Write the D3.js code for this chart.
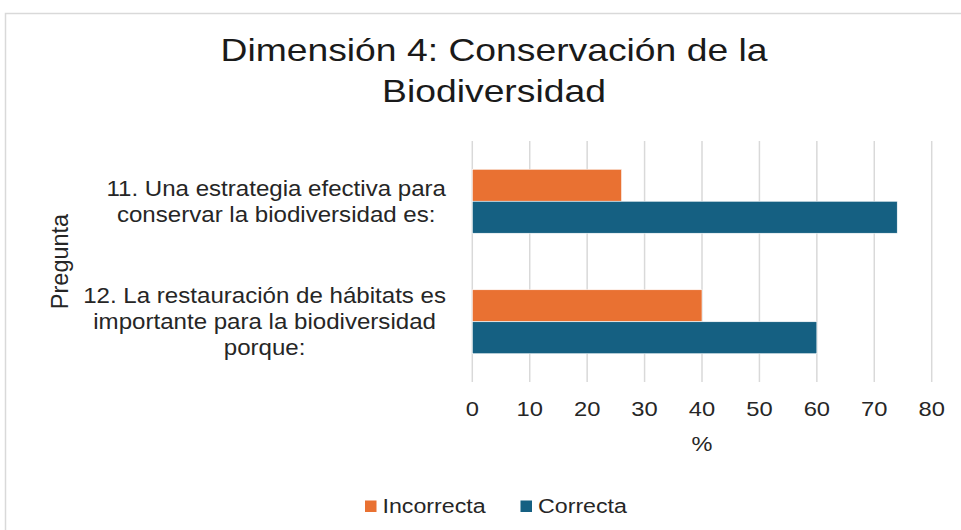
<!DOCTYPE html>
<html>
<head>
<meta charset="utf-8">
<script src="https://cdn.jsdelivr.net/npm/d3@7"></script>
<style>
  html, body { margin: 0; padding: 0; background: #fff; }
  svg { display: block; }
  text { font-family: "Liberation Sans", Arial, sans-serif; fill: #262626; }
</style>
</head>
<body>
<svg id="chart" width="961" height="530"></svg>
<script>
// ---- data ----
const titleLines = ["Dimensión 4: Conservación de la", "Biodiversidad"];
const categories = ["P11", "P12"];
const categoryLabelLines = [
  ["11. Una estrategia efectiva para", "conservar la biodiversidad es:"],
  ["12. La restauración de hábitats es", "importante para la biodiversidad", "porque:"]
];
const seriesNames = ["Incorrecta", "Correcta"];
const incorrecta = [26, 40];
const correcta = [74, 60];
const xTicks = [0, 10, 20, 30, 40, 50, 60, 70, 80];
const xAxisTitle = "%";
const yAxisTitle = "Pregunta";
const seriesColors = ["#E97132", "#156082"];

// ---- layout ----
const svg = d3.select("#chart");
const W = 961, H = 530;
const plot = { left: 472.3, right: 931.7, top: 141, bottom: 382 };

function stretch(sel, sx) {
  sel.each(function () {
    const len = this.getComputedTextLength();
    d3.select(this).attr("textLength", len * sx).attr("lengthAdjust", "spacingAndGlyphs");
  });
}

// frame
svg.append("rect")
  .attr("x", 5.5).attr("y", 13.5)
  .attr("width", W + 20).attr("height", H + 20)
  .attr("fill", "#fff").attr("stroke", "#d9d9d9").attr("stroke-width", 1.5);

// title
const title = svg.append("g");
title.selectAll("text").data(titleLines).join("text")
  .attr("x", 494)
  .attr("y", (d, i) => 61 + i * 41)
  .attr("text-anchor", "middle")
  .style("font-size", "32px")
  .style("fill", "#1a1a1a")
  .text(d => d)
  .call(stretch, 1.165);

// scales
const x = d3.scaleLinear().domain([0, 80]).range([plot.left, plot.right]);
const y = d3.scaleBand().domain(categories).range([plot.top, plot.bottom])
  .paddingInner(0.469).paddingOuter(0.2345);
const ySub = d3.scaleBand().domain(seriesNames).range([0, y.bandwidth()]);

// gridlines
svg.append("g").selectAll("line").data(xTicks).join("line")
  .attr("x1", d => x(d)).attr("x2", d => x(d))
  .attr("y1", plot.top).attr("y2", plot.bottom)
  .attr("stroke", "#d9d9d9").attr("stroke-width", 1.5);

// bars
const rows = categories.map((c, i) => ({ cat: c, values: [incorrecta[i], correcta[i]] }));
const groups = svg.append("g").selectAll("g").data(rows).join("g")
  .attr("transform", d => `translate(0,${y(d.cat)})`);
groups.selectAll("rect").data(d => d.values.map((v, j) => ({ s: seriesNames[j], v, j })))
  .join("rect")
  .attr("x", x(0))
  .attr("y", d => ySub(d.s))
  .attr("width", d => x(d.v) - x(0))
  .attr("height", ySub.bandwidth())
  .attr("fill", d => seriesColors[d.j])
  .attr("stroke", "#ffffff").attr("stroke-width", 0.6);

// x tick labels
svg.append("g").selectAll("text").data(xTicks).join("text")
  .attr("x", d => x(d))
  .attr("y", 416)
  .attr("text-anchor", "middle")
  .style("font-size", "21px")
  .text(d => d)
  .call(stretch, 1.13);

// x axis title
svg.append("text")
  .attr("x", (plot.left + plot.right) / 2)
  .attr("y", 451)
  .attr("text-anchor", "middle")
  .style("font-size", "21px")
  .text(xAxisTitle)
  .call(stretch, 1.12);

// category labels
const lineH = 26;
categories.forEach((c, i) => {
  const lines = categoryLabelLines[i];
  const g = svg.append("g");
  const cy = y(c) + y.bandwidth() / 2;
  const firstBase = cy - (lines.length - 1) * lineH / 2 + 7.5;
  const t = g.selectAll("text").data(lines).join("text")
    .attr("x", 0)
    .attr("y", (d, k) => firstBase + k * lineH)
    .attr("text-anchor", "middle")
    .style("font-size", "21.5px")
    .text(d => d)
    .call(stretch, 1.12);
  let maxW = 0;
  t.each(function () { maxW = Math.max(maxW, +d3.select(this).attr("textLength")); });
  t.attr("x", 446 - maxW / 2);
});

// y axis title
svg.append("text")
  .attr("transform", `translate(68,${(plot.top + plot.bottom) / 2}) rotate(-90)`)
  .attr("text-anchor", "middle")
  .style("font-size", "23.5px")
  .text(yAxisTitle);

// legend
const legendItems = [
  { name: seriesNames[0], color: seriesColors[0], sx: 365, tx: 382.5 },
  { name: seriesNames[1], color: seriesColors[1], sx: 520.5, tx: 538 }
];
const lg = svg.append("g");
lg.selectAll("rect").data(legendItems).join("rect")
  .attr("x", d => d.sx).attr("y", 500.5)
  .attr("width", 11.5).attr("height", 11.5)
  .attr("fill", d => d.color);
lg.selectAll("text").data(legendItems).join("text")
  .attr("x", d => d.tx).attr("y", 512.5)
  .style("font-size", "20px")
  .text(d => d.name)
  .call(stretch, 1.16);
</script>
</body>
</html>
